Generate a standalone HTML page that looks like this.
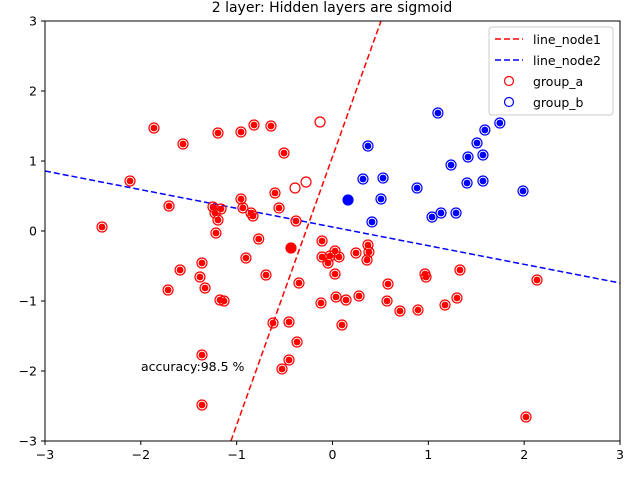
<!DOCTYPE html>
<html><head><meta charset="utf-8"><style>
body{margin:0;background:#fff}
svg{display:block;font-family:"DejaVu Sans","Liberation Sans",sans-serif}
</style></head><body>
<svg id="chart" width="640" height="480" viewBox="0 0 640 480">
<rect width="640" height="480" fill="#fff"/>
<text x="332" y="12" font-size="14" text-anchor="middle">2 layer: Hidden layers are sigmoid</text>
<g id="plot"></g>
<rect x="45" y="21" width="575" height="420" fill="none" stroke="#000" stroke-width="1"/>
<g id="ticks"></g>
<text x="141" y="371" font-size="12.5">accuracy:98.5 %</text>
<g>
<rect x="489" y="27" width="124" height="88" rx="3" fill="#fff" fill-opacity="0.8" stroke="#ccc"/>
<line x1="495" y1="39" x2="523" y2="39" stroke="red" stroke-width="1.5" stroke-dasharray="6,3"/>
<text x="533" y="44" font-size="12.5">line_node1</text>
<line x1="495" y1="60" x2="523" y2="60" stroke="blue" stroke-width="1.5" stroke-dasharray="6,3"/>
<text x="533" y="65" font-size="12.5">line_node2</text>
<circle cx="509" cy="81" r="4.5" fill="none" stroke="red" stroke-width="1.2"/>
<text x="533" y="86" font-size="12.5">group_a</text>
<circle cx="509" cy="102" r="4.5" fill="none" stroke="blue" stroke-width="1.2"/>
<text x="533" y="107" font-size="12.5">group_b</text>
</g>
</svg>
<script>
const xTicks=[-3,-2,-1,0,1,2,3];
const yTicks=[-3,-2,-1,0,1,2,3];
const line1X=[-1.06,0.506];
const line1Y=[-3,3];
const line2X=[-3,3];
const line2Y=[0.857,-0.743];
const groupAX=[-1.863,-1.56,-2.113,-1.706,-2.405,-1.195,-0.955,-0.819,-0.642,-0.506,-0.13,-0.391,-0.276,-0.6,-0.558,-0.381,-0.955,-0.935,-0.85,-0.83,-0.77,-1.247,-1.226,-1.164,-1.195,-1.216,-1.362,-1.59,-1.383,-1.33,-1.716,-0.903,-0.694,-1.132,-1.174,-0.621,-0.454,-0.37,-0.454,-0.527,-1.362,-1.362,-0.433,-0.35,-0.109,-0.109,-0.047,-0.026,0.026,0.068,0.026,0.037,-0.12,0.141,0.277,0.099,0.245,0.37,0.38,0.36,0.579,0.569,0.704,0.892,0.965,0.976,1.33,1.299,1.174,2.134,2.019];
const groupAY=[1.471,1.243,0.714,0.357,0.057,1.4,1.414,1.514,1.5,1.114,1.557,0.614,0.7,0.543,0.329,0.143,0.457,0.33,0.257,0.214,-0.114,0.343,0.257,0.314,0.157,-0.029,-0.457,-0.557,-0.657,-0.814,-0.843,-0.386,-0.629,-1.0,-0.986,-1.314,-1.3,-1.586,-1.843,-1.971,-1.771,-2.486,-0.243,-0.743,-0.143,-0.371,-0.457,-0.357,-0.286,-0.371,-0.614,-0.943,-1.029,-0.986,-0.929,-1.343,-0.314,-0.2,-0.3,-0.414,-0.757,-1.0,-1.143,-1.129,-0.614,-0.657,-0.557,-0.957,-1.057,-0.7,-2.657];
// 0 = open ring only, 1 = ring with dot, 2 = solid (overlapping cluster)
const groupADot=[1,1,1,1,1,1,1,1,1,1,0,0,0,1,1,1,1,1,1,1,1,1,1,1,1,1,1,1,1,1,1,1,1,1,1,1,1,1,1,1,1,1,2,1,1,1,1,1,1,1,1,1,1,1,1,1,1,1,1,1,1,1,1,1,1,1,1,1,1,1,1];
const groupBX=[1.1,1.59,1.746,1.508,1.57,1.237,1.404,1.414,1.57,1.988,0.37,0.527,0.318,0.162,0.506,0.412,0.882,1.039,1.132,1.289];
const groupBY=[1.686,1.443,1.543,1.257,1.086,0.943,0.686,1.057,0.714,0.571,1.214,0.757,0.743,0.443,0.457,0.129,0.614,0.2,0.257,0.257];
const groupBDot=[1,1,1,1,1,1,1,1,1,1,1,1,1,2,1,1,1,1,1,1];
const NS="http://www.w3.org/2000/svg";
const X0=45,X1=620,Y0=441,Y1=21;
function sx(v){return X0+(v+3)/6*(X1-X0);}
function sy(v){return Y0-(v+3)/6*(Y0-Y1);}
function mk(tag,attrs,parent){const e=document.createElementNS(NS,tag);for(const k in attrs)e.setAttribute(k,attrs[k]);parent.appendChild(e);return e;}
const plot=document.getElementById('plot');
const clip=mk('clipPath',{id:'clp'},plot);
mk('rect',{x:X0,y:Y1,width:X1-X0,height:Y0-Y1},clip);
const lg=mk('g',{'clip-path':'url(#clp)'},plot);
let l1=mk('line',{x1:sx(line1X[0]),y1:sy(line1Y[0]),x2:sx(line1X[1]),y2:sy(line1Y[1]),stroke:'red','stroke-width':1.5,'stroke-dasharray':'6,3'},lg);


let l2=mk('line',{x1:sx(line2X[0]),y1:sy(line2Y[0]),x2:sx(line2X[1]),y2:sy(line2Y[1]),stroke:'blue','stroke-width':1.5,'stroke-dasharray':'6,3'},lg);


function drawPts(xs,ys,flags,col,nm){
  for(let i=0;i<xs.length;i++){
    const cx=sx(xs[i]),cy=sy(ys[i]);
    if(flags[i]===2){
      const s=mk('circle',{cx:cx,cy:cy,r:5.6,fill:col},plot);
      
      
      continue;
    }
    const c=mk('circle',{cx:cx,cy:cy,r:5,fill:'none',stroke:col,'stroke-width':1.2},plot);
    
    
    if(flags[i]===1){
      const d=mk('circle',{cx:cx,cy:cy,r:3.4,fill:col},plot);
      
      
    }
  }
}
drawPts(groupAX,groupAY,groupADot,'red','group-a');
drawPts(groupBX,groupBY,groupBDot,'blue','group-b');
const tg=document.getElementById('ticks');
xTicks.forEach(v=>{
  const t=mk('line',{x1:sx(v),y1:Y0,x2:sx(v),y2:Y0+4,stroke:'#000'},tg);
  
  
  const tx=mk('text',{x:sx(v),y:Y0+18,'font-size':12.5,'text-anchor':'middle'},tg);tx.textContent=(v<0?'\u2212'+(-v):v);
  
  
});
yTicks.forEach(v=>{
  const t=mk('line',{x1:X0-4,y1:sy(v),x2:X0,y2:sy(v),stroke:'#000'},tg);
  
  
  const tx=mk('text',{x:X0-8,y:sy(v)+4.5,'font-size':12.5,'text-anchor':'end'},tg);tx.textContent=(v<0?'\u2212'+(-v):v);
  
  
});
</script>
</body></html>
